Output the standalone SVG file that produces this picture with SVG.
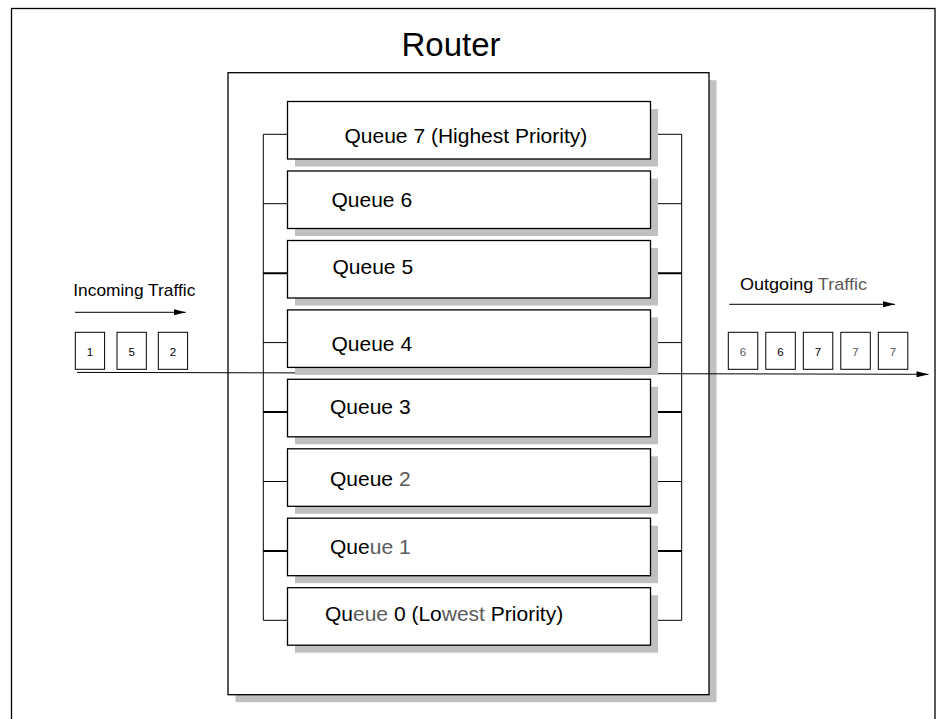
<svg xmlns="http://www.w3.org/2000/svg" width="947" height="719" viewBox="0 0 947 719">
<style>
.t{font-family:"Liberation Sans",Arial,Helvetica,sans-serif;fill:#000}
.q{font-size:21px}
.box{fill:#fff;stroke:#000;stroke-width:1.3}
.sh{fill:#c0c0c0}
.ln{stroke:#000;stroke-width:1;fill:none}
.lb{stroke:#000;stroke-width:2;fill:none}
.pk{fill:#fff;stroke:#000;stroke-width:1}
.d{font-size:11.5px;text-anchor:middle}
.g{fill:#5a5a5a}
</style>
<defs>
<marker id="ah" markerUnits="userSpaceOnUse" markerWidth="12" markerHeight="6" refX="12" refY="3" orient="auto" viewBox="0 0 12 6">
<path d="M0,0 L12,3 L0,6 Z" fill="#000"/>
</marker>
</defs>
<rect x="11.5" y="8.5" width="923.5" height="716" fill="#fff" stroke="#000" stroke-width="1.3"/>
<g id="router">
<rect class="sh" x="235.5" y="80.2" width="481" height="622"/>
<rect class="box" x="228" y="72.7" width="481" height="622"/>
<text class="t" x="451" y="56" font-size="33" text-anchor="middle">Router</text>
</g>
<g id="connectors">
<path class="ln" d="M263.3,134.3 V620.3"/>
<path class="ln" d="M681.7,134.3 V620.3"/>
<path class="ln" d="M263.3,134.3 H287.5 M657.5,134.3 H681.7"/>
<path class="ln" d="M263.3,203.7 H287.5 M657.5,203.7 H681.7"/>
<path class="lb" d="M263.3,273.2 H287.5 M657.5,273.2 H681.7"/>
<path class="ln" d="M263.3,342.6 H287.5 M657.5,342.6 H681.7"/>
<path class="lb" d="M263.3,412.1 H287.5 M657.5,412.1 H681.7"/>
<path class="ln" d="M263.3,481.5 H287.5 M657.5,481.5 H681.7"/>
<path class="lb" d="M263.3,551 H287.5 M657.5,551 H681.7"/>
<path class="ln" d="M263.3,620.3 H287.5 M657.5,620.3 H681.7"/>
<line class="ln" x1="77" y1="372.4" x2="928.5" y2="374.3" marker-end="url(#ah)"/>
<line class="ln" x1="75" y1="312.3" x2="185.7" y2="312.3" marker-end="url(#ah)"/>
<line class="ln" x1="729.3" y1="304.3" x2="895" y2="304.3" marker-end="url(#ah)"/>
</g>
<g id="q7"><rect class="sh" x="295" y="109" width="363" height="57.5"/><rect class="box" x="287.5" y="101.5" width="363" height="57.5"/><text class="t q" x="344.5" y="142.5">Queue 7 (Highest Priority)</text></g>
<g id="q6"><rect class="sh" x="295" y="178.5" width="363" height="57.5"/><rect class="box" x="287.5" y="171" width="363" height="57.5"/><text class="t q" x="331.5" y="206.5">Queue 6</text></g>
<g id="q5"><rect class="sh" x="295" y="248" width="363" height="57.5"/><rect class="box" x="287.5" y="240.5" width="363" height="57.5"/><text class="t q" x="332.5" y="274">Queue 5</text></g>
<g id="q4"><rect class="sh" x="295" y="317.4" width="363" height="57.5"/><rect class="box" x="287.5" y="309.9" width="363" height="57.5"/><text class="t q" x="331.5" y="351">Queue 4</text></g>
<g id="q3"><rect class="sh" x="295" y="386.8" width="363" height="57.5"/><rect class="box" x="287.5" y="379.3" width="363" height="57.5"/><text class="t q" x="330" y="414">Queue 3</text></g>
<g id="q2"><rect class="sh" x="295" y="456.3" width="363" height="57.5"/><rect class="box" x="287.5" y="448.8" width="363" height="57.5"/><text class="t q" x="330" y="486">Queue <tspan class="g">2</tspan></text></g>
<g id="q1"><rect class="sh" x="295" y="525.7" width="363" height="57.5"/><rect class="box" x="287.5" y="518.2" width="363" height="57.5"/><text class="t q" x="330" y="554">Que<tspan class="g">ue 1</tspan></text></g>
<g id="q0"><rect class="sh" x="295" y="595.2" width="363" height="57.5"/><rect class="box" x="287.5" y="587.7" width="363" height="57.5"/><text class="t q" x="325" y="620.7">Qu<tspan class="g">eue</tspan> 0 (Lo<tspan class="g">west</tspan> Priority)</text></g>
<g id="incoming">
<text class="t" x="73.3" y="296" font-size="17" textLength="122" lengthAdjust="spacingAndGlyphs">Incoming Traffic</text>
<rect class="pk" x="75.3" y="332.3" width="29.3" height="37"/><text class="t d" x="90" y="355.5">1</text>
<rect class="pk" x="117" y="332.3" width="29.3" height="37"/><text class="t d" x="131.6" y="355.5">5</text>
<rect class="pk" x="158.3" y="332.3" width="29.3" height="37"/><text class="t d" x="173" y="355.5">2</text>
</g>
<g id="outgoing">
<text class="t" x="740" y="290" font-size="17" textLength="127" lengthAdjust="spacingAndGlyphs">Outgoing <tspan class="g">Traffic</tspan></text>
<rect class="pk" x="728.3" y="332.3" width="29.5" height="37" stroke="#444"/><text class="t d g" x="743" y="355.7">6</text>
<rect class="pk" x="765.8" y="332.3" width="29.5" height="37"/><text class="t d" x="780.5" y="355.7">6</text>
<rect class="pk" x="803.3" y="332.3" width="29.5" height="37"/><text class="t d" x="818" y="355.7">7</text>
<rect class="pk" x="840.8" y="332.3" width="29.5" height="37"/><text class="t d g" x="855.5" y="355.7">7</text>
<rect class="pk" x="878.3" y="332.3" width="29.5" height="37"/><text class="t d g" x="893" y="355.7">7</text>
</g>
</svg>
